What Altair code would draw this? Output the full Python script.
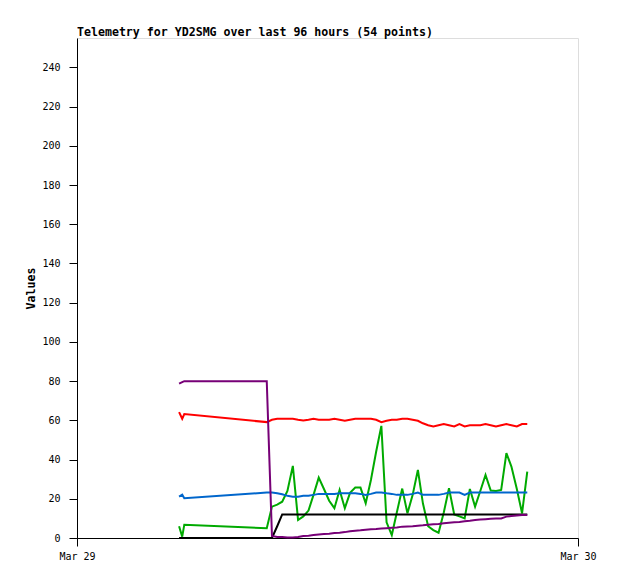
import altair as alt
import pandas as pd

# hours after Mar 29 00:00
hours = [4.89, 5.04, 5.14,
         9.09, 9.34, 9.59, 9.83, 10.08, 10.34, 10.59, 10.84, 11.09, 11.33,
         11.58, 11.83, 12.08, 12.33, 12.58, 12.83, 13.08, 13.33, 13.58, 13.83,
         14.08, 14.33, 14.58, 14.83, 15.08, 15.32, 15.58, 15.83, 16.08, 16.33,
         16.57, 16.82, 17.07, 17.32, 17.57, 17.82, 18.07, 18.32, 18.57, 18.82,
         19.07, 19.32, 19.57, 19.82, 20.07, 20.32, 20.57, 20.81, 21.07, 21.32,
         21.57]

green = [6.0, 0.7, 6.8,
         5.0, 16.0, 17.0, 18.5, 24.0, 36.8, 9.2, 11.0, 14.0, 22.0,
         30.8, 25.0, 19.0, 15.2, 24.5, 15.2, 23.0, 25.7, 25.7, 17.7,
         29.6, 44.0, 57.2, 8.0, 1.5, 13.0, 25.2, 12.6, 22.0, 34.7,
         17.7, 6.0, 4.0, 2.7, 13.0, 25.4, 12.0, 11.0, 10.0, 25.0,
         16.0, 24.0, 32.2, 24.2, 24.0, 24.5, 43.3, 36.4, 25.0, 12.6,
         33.9]

red = [64.2, 60.8, 63.2,
       59.1, 60.3, 60.8, 60.8, 60.8, 60.8, 60.3, 59.9, 60.3, 60.8,
       60.3, 60.3, 60.3, 60.8, 60.3, 59.8, 60.3, 60.8, 60.8, 60.8,
       60.8, 60.3, 59.1, 59.8, 60.3, 60.3, 60.8, 60.8, 60.3, 59.8,
       58.5, 57.5, 56.9, 57.5, 58.1, 57.5, 56.9, 58.1, 56.9, 57.5,
       57.5, 57.5, 58.1, 57.5, 56.9, 57.5, 58.1, 57.5, 56.9, 58.1,
       58.1]

blue = [21.1, 22.1, 20.3,
        23.2, 23.2, 22.8, 22.3, 21.5, 21.1, 21.1, 21.5, 21.5, 22.0,
        22.5, 22.5, 22.5, 22.5, 22.8, 22.8, 22.8, 22.8, 22.5, 22.0,
        22.5, 23.2, 23.2, 22.8, 22.5, 22.0, 22.0, 22.0, 22.5, 23.2,
        22.0, 22.0, 22.0, 22.0, 22.5, 23.2, 23.2, 23.2, 22.0, 23.2,
        23.2, 23.2, 23.2, 23.2, 23.2, 23.2, 23.2, 23.2, 23.2, 23.2,
        23.2]

purple = [78.7, 79.5, 80.0,
          80.0, 1.0, 0.5, 0.5, 0.3, 0.2, 0.5, 1.0, 1.2, 1.5,
          1.8, 2.0, 2.2, 2.5, 2.7, 3.0, 3.4, 3.7, 3.9, 4.2,
          4.5, 4.6, 4.8, 5.0, 5.2, 5.4, 5.8, 5.9, 6.0, 6.3,
          6.5, 6.8, 7.0, 7.2, 7.5, 7.8, 8.0, 8.2, 8.5, 8.8,
          9.2, 9.4, 9.6, 9.8, 10.0, 10.0, 10.9, 11.2, 11.5, 11.7,
          11.7]

black = [0.0, 0.0, 0.0,
         0.0, 0.0, 6.0, 12.0, 12.0, 12.0, 12.0, 12.0, 12.0, 12.0,
         12.0, 12.0, 12.0, 12.0, 12.0, 12.0, 12.0, 12.0, 12.0, 12.0,
         12.0, 12.0, 12.0, 12.0, 12.0, 12.0, 12.0, 12.0, 12.0, 12.0,
         12.0, 12.0, 12.0, 12.0, 12.0, 12.0, 12.0, 12.0, 12.0, 12.0,
         12.0, 12.0, 12.0, 12.0, 12.0, 12.0, 12.0, 12.0, 12.0, 12.0,
         12.0]

series = [("green", green, "#00AA00"), ("blue", blue, "#0066CC"),
          ("red", red, "#FF0000"), ("black", black, "#000000"),
          ("purple", purple, "#770077")]

x_ticks = [0, 24]
y_ticks = list(range(0, 241, 20))

MONO = "DejaVu Sans Mono"

x_enc = alt.X("h:Q",
              scale=alt.Scale(domain=[0, 24], nice=False),
              axis=alt.Axis(values=x_ticks, title=None, grid=False,
                            labelExpr="datum.value == 0 ? 'Mar 29' : 'Mar 30'",
                            labelFont=MONO, labelFontSize=10, labelColor="black",
                            labelFlush=False, tickSize=8, tickColor="black",
                            domainColor="black", labelPadding=5))
y_enc = alt.Y("v:Q",
              scale=alt.Scale(domain=[0, 255], nice=False),
              axis=alt.Axis(values=y_ticks, title="Values", grid=False,
                            labelFont=MONO, labelFontSize=10, labelColor="black",
                            tickSize=8, tickColor="black", domainColor="black",
                            labelPadding=9, titleFont=MONO, titleFontSize=11.6,
                            titleFontWeight="bold", titleColor="black",
                            titlePadding=5))

layers = []
for name, vals, col in series:
    df = pd.DataFrame({"h": hours, "v": vals})
    layers.append(
        alt.Chart(df).mark_line(color=col, strokeWidth=2, interpolate="linear")
        .encode(x=x_enc, y=y_enc)
    )

chart = alt.layer(*layers).properties(
    width=501, height=500,
    title=alt.TitleParams(
        "Telemetry for YD2SMG over last 96 hours (54 points)",
        anchor="start", frame="group", font=MONO, fontSize=11.6,
        fontWeight="bold", color="black", offset=3, dy=4),
    autosize=alt.AutoSizeParams(type="none"),
    padding={"left": 69, "top": 30, "right": 32, "bottom": 33},
).configure_view(stroke="#555555", strokeWidth=1).configure(background="white")

chart.save("out.html", embed_options={"renderer": "svg", "actions": False})
